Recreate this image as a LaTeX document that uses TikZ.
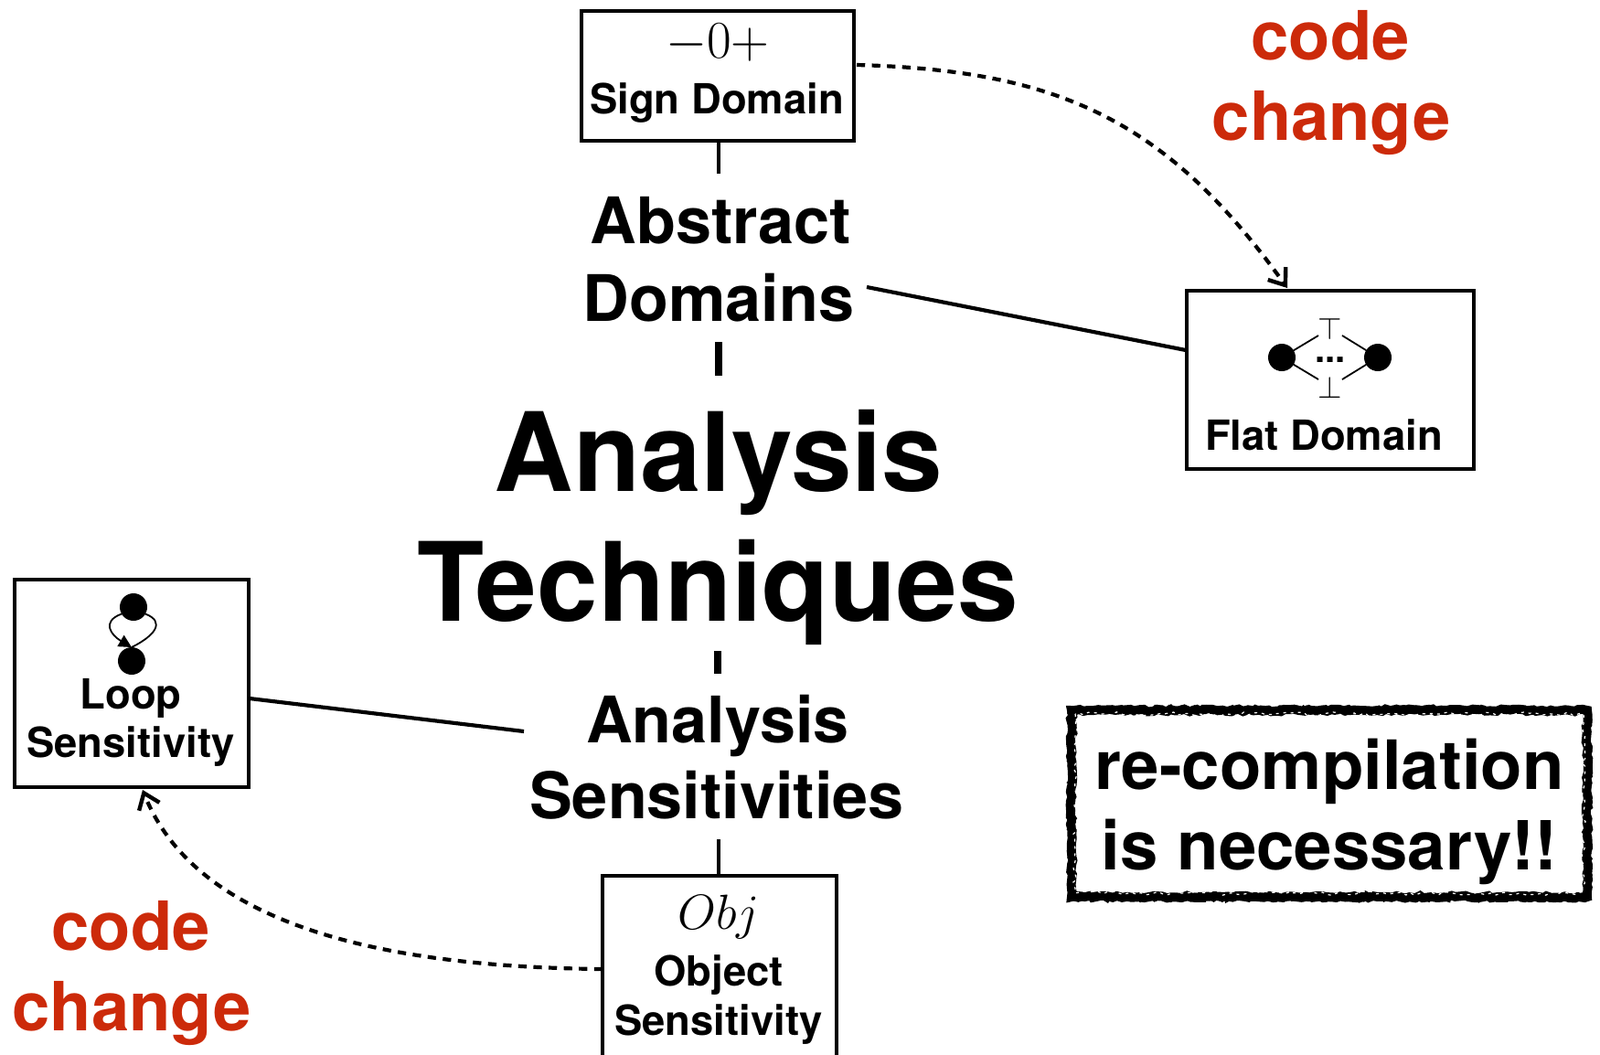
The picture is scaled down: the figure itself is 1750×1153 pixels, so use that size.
\documentclass[tikz,border=0pt]{standalone}
\usepackage{fix-cm}
\usepackage{fontspec}
\setmainfont{TeX Gyre Heros}
\usetikzlibrary{arrows.meta,decorations.pathmorphing}
\definecolor{redtxt}{HTML}{CC2A0A}
\newcommand{\hb}[1]{\fontsize{#1}{#1}\selectfont\bfseries}
\tikzset{
  x=0.5pt,y=-0.5pt,
  txt/.style={anchor=base,inner sep=0pt,outer sep=0pt,text=black},
  huge/.style={txt,font=\hb{59.9}},
  mid/.style={txt,font=\hb{35.1}},
  small/.style={txt,font=\hb{22.7}},
  red/.style={txt,text=redtxt,font=\hb{37.1}},
  boxed/.style={draw=black,line width=2.3pt,fill=white,inner sep=0pt,outer sep=0pt},
  link/.style={draw=black,line width=2.1pt},
  dashlink/.style={draw=black,line width=2.1pt,dash pattern=on 4.6pt off 3.7pt,
    -{Straight Barb[length=8pt,width=12pt,line width=2.2pt]}},
  dot/.style={circle,fill=black,minimum size=15pt,inner sep=0pt,outer sep=0pt},
  thin/.style={draw=black,line width=0.9pt},
}
\begin{document}
\begin{tikzpicture}
\useasboundingbox (0,0) rectangle (1750,1153);

% boxes
\path[boxed] (636,12) rectangle (934,154);
\coordinate (signS) at (786,154);
\coordinate (signE) at (937,71);
\path[boxed] (1298,318) rectangle (1612,513);
\coordinate (flatW) at (1297,383);
\coordinate (flatN) at (1408,315);
\path[boxed] (16,634) rectangle (272,861);
\coordinate (loopE) at (273,764);
\coordinate (loopS) at (156,864);
\path[boxed] (659,958) rectangle (915,1170);
\coordinate (objN) at (786,958);
\coordinate (objW) at (659,1060);

% rough box
\draw[line width=5pt,fill=white,decorate,decoration={random steps,segment length=2.5pt,amplitude=0.7pt}]
  (1172,777) rectangle (1736,981);
\draw[line width=2pt,decorate,decoration={random steps,segment length=2pt,amplitude=1.1pt}]
  (1171,775) rectangle (1738,983);
\draw[white,line width=0.6pt,dash pattern=on 1.5pt off 2.5pt,decorate,decoration={random steps,segment length=3pt,amplitude=1.1pt}]
  (1176,781) rectangle (1732,977);

% texts
\node[mid] (abs) at (788,266) {Abstract};
\node[mid] (dom) at (786,351) {Domains};
\node[huge] (ana) at (786,537) {Analysis};
\node[huge] (tec) at (785,679) {Techniques};
\node[mid] (as1) at (785,812) {Analysis};
\node[mid] (as2) at (784,895) {Sensitivities};
\node[red] (c1) at (1455,65) {code};
\node[red] (c2) at (1456,153) {change};
\node[red] (c3) at (143,1039) {code};
\node[red] (c4) at (144,1127) {change};
\node[txt,font=\hb{37.2}] (re1) at (1454,863) {re-compilation};
\node[txt,font=\hb{37.2}] (re2) at (1454,951) {is necessary!!};
\node[small] (sd) at (784,124) {Sign Domain};
\node[small] (fd) at (1448,492) {Flat Domain};
\node[small] (lp) at (143,775) {Loop};
\node[small] (ls) at (143,828) {Sensitivity};
\node[small] (ob) at (786,1078) {Object};
\node[small] (os) at (786,1132) {Sensitivity};
\node[txt,font=\fontsize{29}{29}\selectfont] (sg) at (785,63) {$-0+$};
\node[txt,font=\fontsize{27}{27}\selectfont] (oj) at (786,1016) {$Obj$};

% connector ends
\coordinate (absT) at (786,190);
\coordinate (domR) at (948,314);
\coordinate (domB) at (786,374);
\coordinate (anaT) at (786,411);
\coordinate (tecB) at (785,712);
\coordinate (asT) at (785,737);
\coordinate (asL) at (573,800);
\coordinate (asB) at (786,918);

\draw[link] (signS) -- (absT);
\draw[link] (domR) -- (flatW);
\draw[link,line width=3.8pt] (domB) -- (anaT);
\draw[link,line width=3.8pt] (tecB) -- (asT);
\draw[link] (loopE) -- (asL);
\draw[link] (asB) -- (objN);
\path[dashlink] (signE) .. controls (1157,77) and (1275,130) .. (flatN);
\path[dashlink] (objW) .. controls (470,1058) and (222,1030) .. (loopS);

% flat icon
\node[dot] (fl) at (1402,391) {};
\node[dot] (fr) at (1507,391) {};
\coordinate (tl) at (1442,367);
\coordinate (tr) at (1468,367);
\coordinate (bl) at (1442,415);
\coordinate (br) at (1468,415);
\draw[thin] (fl) -- (tl);
\draw[thin] (fl) -- (bl);
\draw[thin] (fr) -- (tr);
\draw[thin] (fr) -- (br);
\node[txt,font=\fontsize{17}{17}\selectfont] (top) at (1455,371) {$\top$};
\node[txt,font=\fontsize{17}{17}\selectfont] (bot) at (1455,435) {$\bot$};
\node[txt,font=\hb{20}] (dts) at (1455,396) {...};

% loop icon
\node[dot] (lt) at (146,664) {};
\node[dot] (lb) at (144,723) {};
\draw[thin,-{Triangle[length=7pt,width=7pt]}] (lt.210) .. controls (110,680) and (122,695) .. (lb.north);
\draw[thin] (lt.330) .. controls (181,680) and (170,695) .. (lb.north);
\end{tikzpicture}
\end{document}
